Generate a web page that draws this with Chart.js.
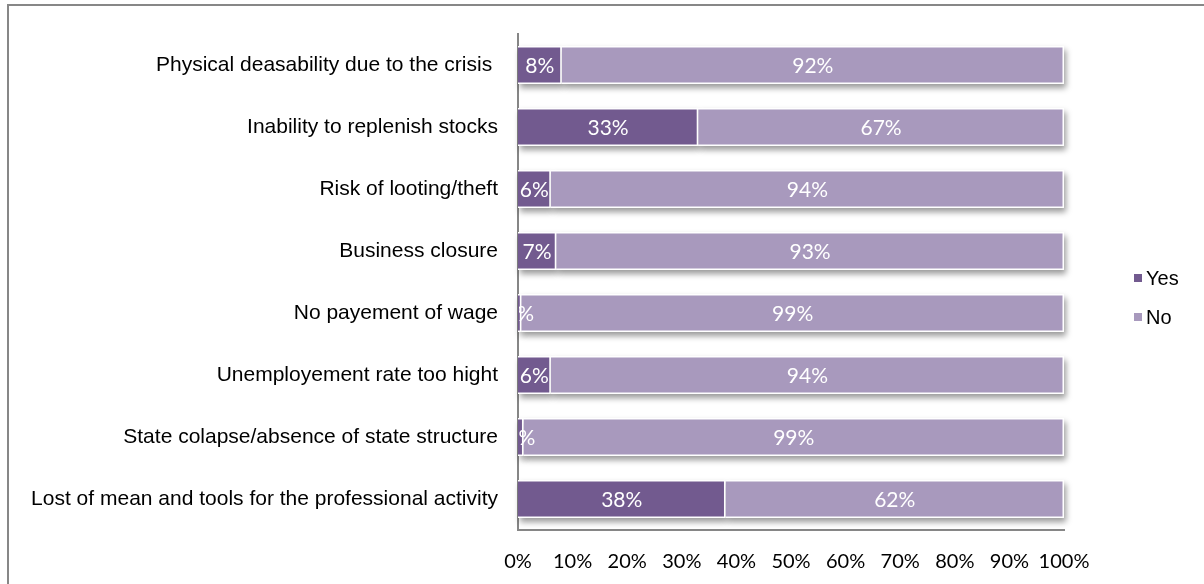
<!DOCTYPE html>
<html>
<head>
<meta charset="utf-8">
<script src="https://cdn.jsdelivr.net/npm/chart.js@4"></script>
<style>
html, body { margin: 0; padding: 0; background: #fff; overflow: hidden; }
#frame { position: absolute; left: 7px; top: 4px; width: 1300px; height: 700px; border: 2px solid #878787; }
#wrap { position: absolute; left: 0; top: 0; width: 1204px; height: 584px; }
</style>
</head>
<body>
<div id="frame"></div>
<div id="wrap"><canvas id="myChart" width="1204" height="584"></canvas></div>
<script>
// categories, top to bottom
const categories = [
  "Physical deasability due to the crisis ",
  "Inability to replenish stocks",
  "Risk of looting/theft",
  "Business closure",
  "No payement of wage",
  "Unemployement rate too hight",
  "State colapse/absence of state structure",
  "Lost of mean and tools for the professional activity"
]
const yesValues = [8, 33, 6, 7, 0.6, 6, 1, 38]
const noValues = [92, 67, 94, 93, 99.4, 94, 99, 62]
const xTickStep = 10

const yesColor = "#725A8F"
const noColor = "#A899BD"

// ombre sous les barres (style excel)
const shadowPlugin = {
  id: "shadow",
  beforeDatasetsDraw(chart) {
    const ctx = chart.ctx
    ctx.save()
    ctx.shadowColor = "rgba(0,0,0,0.4)"
    ctx.shadowBlur = 6
    ctx.shadowOffsetX = 2
    ctx.shadowOffsetY = 4
    ctx.fillStyle = "#fff"
    chart.data.datasets.forEach((ds, i) => {
      chart.getDatasetMeta(i).data.forEach(bar => {
        const p = bar.getProps(["x", "y", "base", "height"])
        ctx.fillRect(Math.min(p.base, p.x), p.y - p.height / 2, Math.abs(p.x - p.base), p.height)
      })
    })
    ctx.restore()
  }
}

// étiquettes blanches dans les barres
const labelPlugin = {
  id: "barLabels",
  afterDatasetsDraw(chart) {
    const ctx = chart.ctx
    const a = chart.chartArea
    ctx.save()
    ctx.beginPath()
    ctx.rect(a.left + 1, a.top, a.right - a.left, a.bottom - a.top)
    ctx.clip()
    ctx.fillStyle = "#fff"
    ctx.font = "21px Lato"
    ctx.textAlign = "center"
    ctx.textBaseline = "middle"
    chart.data.datasets.forEach((ds, i) => {
      chart.getDatasetMeta(i).data.forEach((bar, j) => {
        ctx.fillText(Math.round(ds.data[j]) + "%", (bar.x + bar.base) / 2, bar.y + 1)
      })
    })
    ctx.restore()
  }
}

// légende à droite
const legendPlugin = {
  id: "sideLegend",
  afterDraw(chart) {
    const ctx = chart.ctx
    const cy = chart.height / 2
    ctx.save()
    ctx.font = '20px "Liberation Sans", Arial'
    ctx.textBaseline = "middle"
    chart.data.datasets.forEach((ds, i) => {
      const y = cy - 14 + i * 39
      ctx.fillStyle = ds.backgroundColor
      ctx.fillRect(1134, y - 4, 8, 8)
      ctx.fillStyle = "#000"
      ctx.fillText(ds.label, 1146, y + 1)
    })
    ctx.restore()
  }
}

const chart = new Chart("myChart", {
  type: "bar",
  data: {
    labels: categories,
    datasets: [{
      label: "Yes",
      data: yesValues,
      backgroundColor: yesColor,
      borderColor: "#fff",
      borderWidth: 1.5,
      barPercentage: 0.61,
      categoryPercentage: 1
    }, {
      label: "No",
      data: noValues,
      backgroundColor: noColor,
      borderColor: "#fff",
      borderWidth: 1.5,
      barPercentage: 0.61,
      categoryPercentage: 1
    }]
  },
  options: {
    responsive: false,
    animation: false,
    indexAxis: "y",
    layout: { padding: { top: 34, right: 140, bottom: 0, left: 0 } },
    plugins: {
      legend: { display: false },
      tooltip: { enabled: false }
    },
    scales: {
      x: {
        stacked: true,
        min: 0,
        max: 100,
        ticks: {
          stepSize: xTickStep,
          callback: v => v + "%",
          color: "#000",
          font: { family: "Lato", size: 20 },
          padding: 12,
          maxRotation: 0,
          autoSkip: false
        },
        grid: { display: false },
        border: { display: true, color: "#868686", width: 2 },
        afterFit: s => { s.height = 54 }
      },
      y: {
        stacked: true,
        ticks: {
          color: "#000",
          font: { family: '"Liberation Sans", Arial', size: 21 },
          padding: 12,
          autoSkip: false
        },
        grid: { display: false },
        border: { display: true, color: "#868686", width: 2 },
        afterFit: s => { s.width = 518 }
      }
    }
  },
  plugins: [shadowPlugin, labelPlugin, legendPlugin]
})
</script>
</body>
</html>
